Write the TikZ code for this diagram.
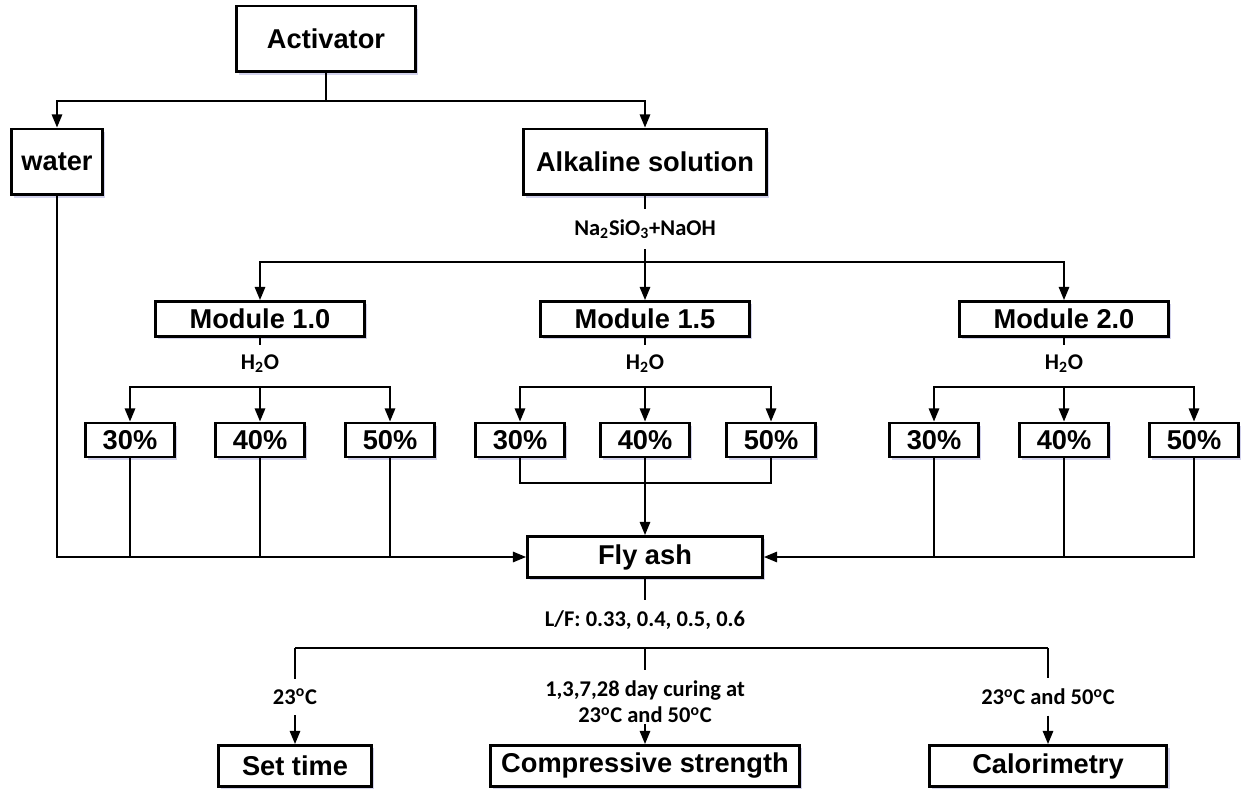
\documentclass[tikz,border=0pt]{standalone}
\usepackage{fontspec}
\setmainfont{Liberation Sans}
\newfontfamily\calibri{Carlito}
\usetikzlibrary{arrows.meta,shadows}

\begin{document}
\begin{tikzpicture}[x=0.02cm, y=-0.02cm,
    box/.style={draw, line width=1.7pt, fill=white, inner sep=0pt,
        font=\fontsize{15.5}{18}\selectfont\bfseries,
        drop shadow={shadow xshift=1.5pt, shadow yshift=-1.5pt, fill=blue!40!gray, opacity=0.25}},
    tall/.style={box, minimum height=1.32cm},
    flat/.style={box, minimum height=0.7cm},
    low/.style={box, minimum height=0.82cm},
    pct/.style={box, minimum width=1.78cm, minimum height=0.68cm},
    lbl/.style={font=\calibri\fontsize{12.8}{15}\selectfont\bfseries, inner sep=0pt, outer sep=6pt},
    link/.style={line width=0.85pt},
    arr/.style={link, -{Triangle[length=7.5pt, width=6pt]}}]

\useasboundingbox (0,0) rectangle (1244,790);

% Activator
\node[tall, minimum width=3.58cm] (act) at (326,39) {Activator};
\node[tall, minimum width=1.82cm] (water) at (57,162) {water};
\node[tall, minimum width=4.86cm] (alk) at (645,162) {Alkaline solution};
\coordinate (s0) at (326,101);
\draw[link] (act) -- (s0);
\draw[arr] (s0) -| (water);
\draw[arr] (s0) -| (alk);

% Modules
\node[lbl] (na) at (645,229) {Na\textsubscript{2}SiO\textsubscript{3}+NaOH};
\node[flat, minimum width=4.18cm] (m1) at (260,319) {Module 1.0};
\node[flat, minimum width=4.18cm] (m2) at (645,319) {Module 1.5};
\node[flat, minimum width=4.18cm] (m3) at (1064,319) {Module 2.0};
\coordinate (s1) at (645,262);
\draw[link] (alk) -- (na);
\draw[arr] (na) -- (m2);
\draw[arr] (s1) -| (m1);
\draw[arr] (s1) -| (m3);

% Water contents
\foreach \m/\a/\b/\c in {1/130/260/390, 2/520/645/771, 3/934/1064/1194} {
    \node[lbl] (h\m) at (\b,364) {H\textsubscript{2}O};
    \draw[link] (m\m) -- (h\m);
    \node[pct] (p\m-a) at (\a,440) {30\%};
    \node[pct] (p\m-b) at (\b,440) {40\%};
    \node[pct] (p\m-c) at (\c,440) {50\%};
    \coordinate (q\m) at (\b,387);
    \draw[arr] (q\m) -| (p\m-a);
    \draw[arr] (q\m) -- (p\m-b);
    \draw[arr] (q\m) -| (p\m-c);
}

% Fly ash
\node[low, minimum width=4.7cm] (fly) at (645,557) {Fly ash};
\draw[arr] (water) |- (fly);
\draw[link] (p1-a) -- (p1-a |- fly.west);
\draw[link] (p1-b) -- (p1-b |- fly.west);
\draw[link] (p1-c) -- (p1-c |- fly.west);
\coordinate (j2) at (645,483);
\draw[link] (p2-a) |- (j2) -| (p2-c);
\draw[arr] (p2-b) -- (fly);
\draw[arr] (p3-c) |- (fly);
\draw[link] (p3-a) -- (p3-a |- fly.east);
\draw[link] (p3-b) -- (p3-b |- fly.east);

% Tests
\node[lbl] (lf) at (645,620) {L/F: 0.33, 0.4, 0.5, 0.6};
\draw[link] (fly) -- (lf);
\coordinate (b1) at (295,648);
\coordinate (b2) at (645,648);
\coordinate (b3) at (1048,648);
\draw[link] (b1) -- (b3);
\node[lbl] (t1) at (295,697) {23\textsuperscript{o}C};
\node[lbl, align=center] (t2) at (645,702) {1,3,7,28 day curing at\\23\textsuperscript{o}C and 50\textsuperscript{o}C};
\node[lbl] (t3) at (1048,697) {23\textsuperscript{o}C and 50\textsuperscript{o}C};
\draw[link] (b1) -- (t1);
\draw[link] (b2) -- (t2);
\draw[link] (b3) -- (t3);
\node[low, minimum width=3.06cm] (st) at (295,766) {Set time};
\node[low, minimum width=6.18cm] (cs) at (645,766) {Compressive strength};
\node[low, minimum width=4.76cm] (cal) at (1048,766) {Calorimetry};
\coordinate (c2) at (645,724);
\draw[arr] (t1) -- (st);
\draw[arr] (c2) -- (cs);
\draw[arr] (t3) -- (cal);
\end{tikzpicture}
\end{document}
